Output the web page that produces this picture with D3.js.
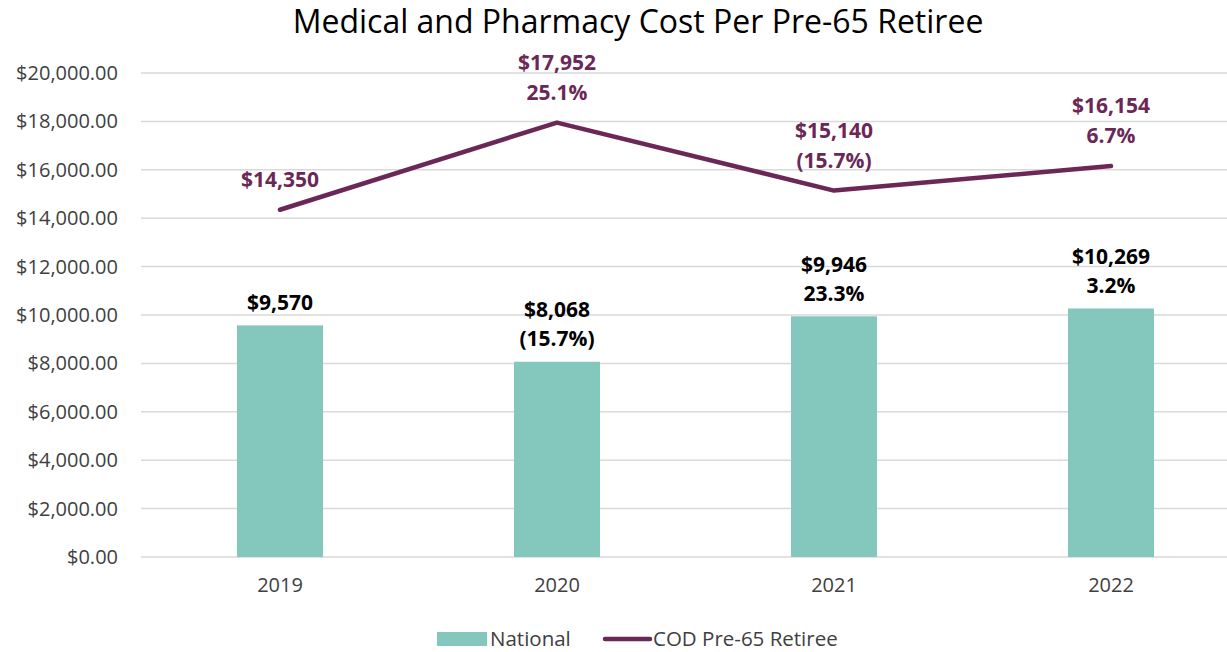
<!DOCTYPE html>
<html><head><meta charset="utf-8">
<script src="https://cdn.jsdelivr.net/npm/d3@7"></script>
<style>
body{margin:0;background:#fff;}
svg{display:block;font-family:"Open Sans","Noto Sans",sans-serif;}
</style></head>
<body>
<svg id="chart" width="1227" height="652"></svg>
<script>
const categories = ["2019","2020","2021","2022"];
const nationalValues = [9570, 8068, 9946, 10269];
const nationalChange = [null, "(15.7%)", "23.3%", "3.2%"];
const codValues = [14350, 17952, 15140, 16154];
const codChange = [null, "25.1%", "(15.7%)", "6.7%"];
const yTicks = [0,2000,4000,6000,8000,10000,12000,14000,16000,18000,20000];
const title = "Medical and Pharmacy Cost Per Pre-65 Retiree";
const seriesNames = ["National", "COD Pre-65 Retiree"];

const barColor = "#84C7BC", lineColor = "#6B2857";
const svg = d3.select("#chart");
const x = d3.scaleBand().domain(categories).range([141.5, 1249.5]);
const y = d3.scaleLinear().domain([0,20000]).range([557, 73]);
const fmtAxis = v => "$" + d3.format(",.2f")(v);
const fmtVal = v => "$" + d3.format(",")(v);
const FONT = "'Open Sans','Noto Sans',sans-serif";

// title
svg.append("text").attr("x", 638).attr("y", 33).attr("text-anchor","middle")
  .attr("font-size", 32).attr("fill","#000").text(title);

// gridlines
svg.append("g").selectAll("line").data(yTicks).join("line")
  .attr("x1", 141).attr("x2", 1227)
  .attr("y1", d=>y(d)).attr("y2", d=>y(d))
  .attr("stroke","#d9d9d9").attr("stroke-width",1.5);

// y axis
const yAxis = d3.axisLeft(y).tickValues(yTicks).tickFormat(fmtAxis).tickSize(0).tickPadding(0);
const gy = svg.append("g").attr("transform","translate(118,0)").call(yAxis);
gy.select(".domain").remove();
gy.selectAll("text").attr("font-size",20).attr("fill","#404040").attr("font-family",FONT);

// x axis
const xAxis = d3.axisBottom(x).tickSize(0).tickPadding(0);
const gx = svg.append("g").attr("transform","translate(0,578)").call(xAxis);
gx.select(".domain").remove();
gx.selectAll("text").attr("font-size",20).attr("fill","#404040").attr("font-family",FONT);

// bars
const bw = 86;
svg.append("g").selectAll("rect").data(categories).join("rect")
  .attr("x", (d)=>x(d)+x.bandwidth()/2-bw/2)
  .attr("width", bw)
  .attr("y", (d,i)=>y(nationalValues[i]))
  .attr("height", (d,i)=>y(0)-y(nationalValues[i]))
  .attr("fill", barColor);

// line
const line = d3.line().x((d,i)=>x(categories[i])+x.bandwidth()/2).y(d=>y(d));
svg.append("path").datum(codValues).attr("d", line)
  .attr("fill","none").attr("stroke",lineColor).attr("stroke-width",4.5)
  .attr("stroke-linecap","round").attr("stroke-linejoin","round");

// labels
function labels(vals, changes, color, gap1, gap2){
  const g = svg.append("g").attr("font-weight","bold").attr("font-size",21)
    .attr("fill",color).attr("text-anchor","middle");
  vals.forEach((v,i)=>{
    const cx = x(categories[i])+x.bandwidth()/2;
    const py = y(v);
    if (changes[i]) {
      g.append("text").attr("x",cx).attr("y",py-gap1).attr("dy","0.35em").text(fmtVal(v));
      g.append("text").attr("x",cx).attr("y",py-gap2).attr("dy","0.35em").text(changes[i]);
    } else {
      g.append("text").attr("x",cx).attr("y",py-gap2).attr("dy","0.35em").text(fmtVal(v));
    }
  });
}
labels(codValues, codChange, lineColor, 60, 30);
labels(nationalValues, nationalChange, "#000", 52, 23);

// legend
const lg = svg.append("g").attr("font-size",20.5).attr("fill","#404040");
lg.append("rect").attr("x",437).attr("y",632).attr("width",50).attr("height",14).attr("fill",barColor);
lg.append("text").attr("x",490).attr("y",639).attr("dy","0.35em").text(seriesNames[0]);
lg.append("line").attr("x1",605).attr("x2",650).attr("y1",639).attr("y2",639)
  .attr("stroke",lineColor).attr("stroke-width",4.5).attr("stroke-linecap","round");
lg.append("text").attr("x",653).attr("y",639).attr("dy","0.35em").text(seriesNames[1]);
</script>
</body></html>
